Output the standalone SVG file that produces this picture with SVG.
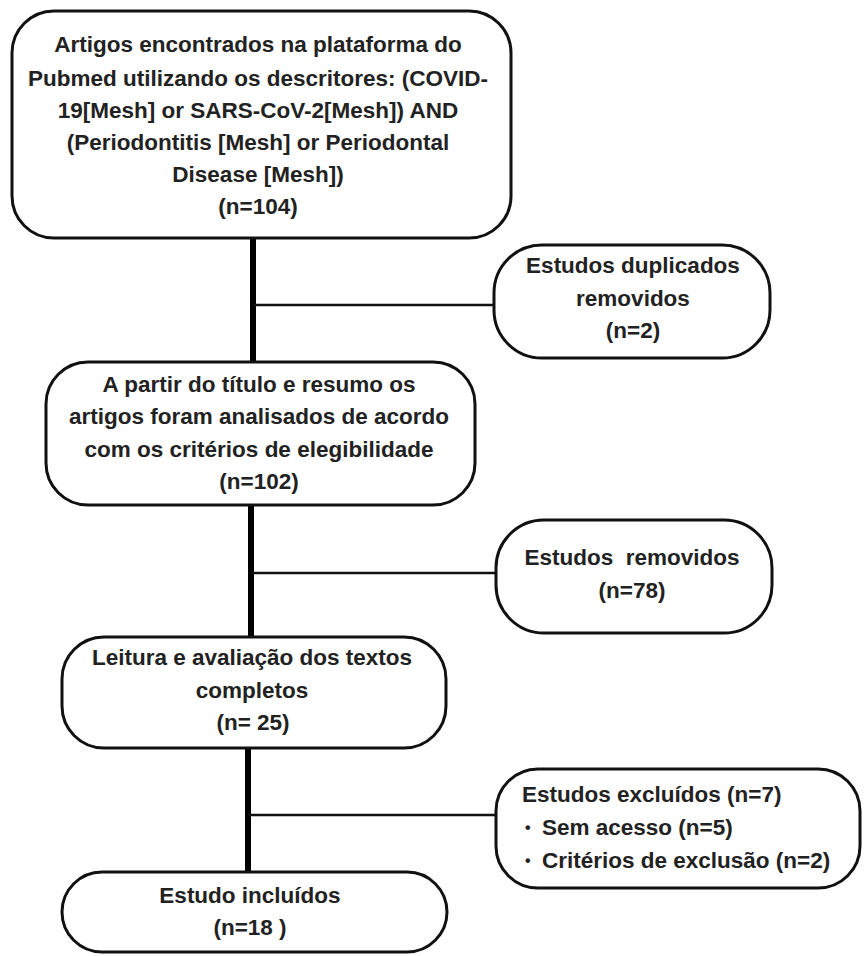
<svg xmlns="http://www.w3.org/2000/svg" width="865" height="956" viewBox="0 0 865 956">
<style>
.box{fill:#fff;stroke:#111;stroke-width:3}
.t{font-family:"Liberation Sans",Arial,sans-serif;font-weight:bold;font-size:22.5px;fill:#222}
.c{text-anchor:middle}
.b{font-size:16px}
.main{stroke:#000;stroke-width:6;fill:none}
.br{stroke:#111;stroke-width:2.5;fill:none}
</style>
<rect width="865" height="956" fill="#fff"/>
<g id="connectors">
<line class="main" x1="253" y1="238" x2="253" y2="362"/>
<line class="main" x1="251" y1="505" x2="251" y2="637"/>
<line class="main" x1="248" y1="748" x2="248" y2="872"/>
<line class="br" x1="253" y1="305" x2="494" y2="305"/>
<line class="br" x1="251" y1="573" x2="496" y2="573"/>
<line class="br" x1="248" y1="815" x2="496" y2="815"/>
</g>
<g id="n1">
<rect class="box" x="12" y="11" width="499" height="227" rx="42"/>
<text class="t c" x="258" y="52">Artigos encontrados na plataforma do</text>
<text class="t c" x="258" y="86">Pubmed utilizando os descritores: (COVID-</text>
<text class="t c" x="258" y="118">19[Mesh] or SARS-CoV-2[Mesh]) AND</text>
<text class="t c" x="258" y="150">(Periodontitis [Mesh] or Periodontal</text>
<text class="t c" x="258" y="182">Disease [Mesh])</text>
<text class="t c" x="258" y="214">(n=104)</text>
</g>
<g id="n2">
<rect class="box" x="494" y="245" width="276" height="113" rx="48"/>
<text class="t c" x="633" y="273">Estudos duplicados</text>
<text class="t c" x="633" y="306">removidos</text>
<text class="t c" x="633" y="338">(n=2)</text>
</g>
<g id="n3">
<rect class="box" x="46" y="362" width="429" height="143" rx="42"/>
<text class="t c" x="259" y="392">A partir do título e resumo os</text>
<text class="t c" x="259" y="424">artigos foram analisados de acordo</text>
<text class="t c" x="259" y="457">com os critérios de elegibilidade</text>
<text class="t c" x="259" y="489">(n=102)</text>
</g>
<g id="n4">
<rect class="box" x="496" y="520" width="276" height="113" rx="48"/>
<text class="t c" x="632" y="565" style="white-space:pre">Estudos  removidos</text>
<text class="t c" x="632" y="598">(n=78)</text>
</g>
<g id="n5">
<rect class="box" x="62" y="637" width="384" height="111" rx="42"/>
<text class="t c" x="252" y="665">Leitura e avaliação dos textos</text>
<text class="t c" x="252" y="698">completos</text>
<text class="t c" x="253" y="730">(n= 25)</text>
</g>
<g id="n6">
<rect class="box" x="496" y="769" width="364" height="119" rx="42"/>
<text class="t" x="522" y="802">Estudos excluídos (n=7)</text>
<text class="t b" x="525" y="833">•</text>
<text class="t" x="542" y="835">Sem acesso (n=5)</text>
<text class="t b" x="525" y="866">•</text>
<text class="t" x="542" y="868">Critérios de exclusão (n=2)</text>
</g>
<g id="n7">
<rect class="box" x="62" y="872" width="385" height="80" rx="40"/>
<text class="t c" x="250" y="903">Estudo incluídos</text>
<text class="t c" x="250" y="935">(n=18 )</text>
</g>
</svg>
